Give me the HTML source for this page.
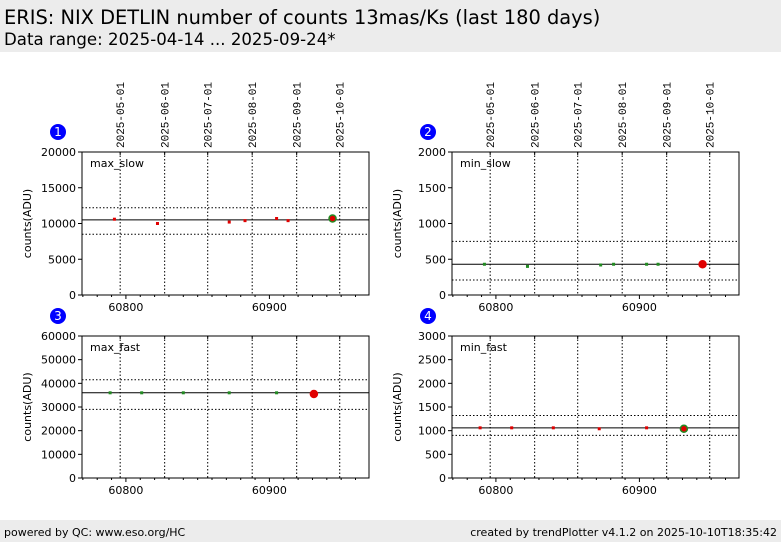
<!DOCTYPE html>
<html><head><meta charset="utf-8"><style>
body{margin:0;width:782px;height:542px;background:#fff;overflow:hidden;font-family:"DejaVu Sans","Liberation Sans",sans-serif;position:relative}
#hdr{position:absolute;left:0;top:0;width:781px;height:52px;background:#ececec}
#t1{position:absolute;left:4px;top:6px;font-size:19.4px;color:#000;white-space:nowrap}
#t2{position:absolute;left:4px;top:30px;font-size:16.6px;color:#000;white-space:nowrap}
#ftr{position:absolute;left:0;top:520px;width:781px;height:22px;background:#ececec;font-size:11px}
#fl{position:absolute;left:4px;top:6px}
#fr{position:absolute;right:4px;top:6px}
svg{position:absolute;left:0;top:0}
</style></head><body>
<div id="hdr">
<div id="t1">ERIS: NIX DETLIN number of counts 13mas/Ks (last 180 days)</div>
<div id="t2">Data range: 2025-04-14 ... 2025-09-24*</div>
</div>
<svg id="chart" width="782" height="542"></svg>
<div id="ftr">
<span id="fl">powered by QC: www.eso.org/HC</span>
<span id="fr">created by trendPlotter v4.1.2 on 2025-10-10T18:35:42</span>
</div>
<script>
const dateLabels=["2025-05-01","2025-06-01","2025-07-01","2025-08-01","2025-09-01","2025-10-01"];
const dateMjd=[60796,60827,60857,60888,60919,60949];
const xTicks=[60800,60900];
const p1Mjd=[60792,60822,60872,60883,60905,60913,60944];
const p1Val=[10600,10000,10200,10400,10700,10400,10700];
const p2Mjd=[60792,60822,60873,60882,60905,60913,60944];
const p2Val=[430,400,420,430,430,430,430];
const p3Mjd=[60789,60811,60840,60872,60905,60931];
const p3Val=[36000,36000,36000,36000,36000,35500];
const p4Mjd=[60789,60811,60840,60872,60905,60931];
const p4Val=[1060,1060,1060,1040,1060,1040];
const p1Lines=[10500,12200,8500];
const p2Lines=[430,750,210];
const p3Lines=[36000,41500,29000];
const p4Lines=[1060,1320,900];
const p1Ticks=[0,5000,10000,15000,20000];
const p2Ticks=[0,500,1000,1500,2000];
const p3Ticks=[0,10000,20000,30000,40000,50000,60000];
const p4Ticks=[0,500,1000,1500,2000,2500,3000];

const NS="http://www.w3.org/2000/svg";
const svg=document.getElementById('chart');
function mk(tag,attrs,parent){const e=document.createElementNS(NS,tag);for(const k in attrs)e.setAttribute(k,attrs[k]);(parent||svg).appendChild(e);return e;}
const panels=[
 {n:1,name:'max_slow',x0:82,y0:152,h:143,mjd:p1Mjd,val:p1Val,lines:p1Lines,ticks:p1Ticks,dot:'#e00000',big:'#228b22',bigIn:'#e00000',dates:true},
 {n:2,name:'min_slow',x0:452,y0:152,h:143,mjd:p2Mjd,val:p2Val,lines:p2Lines,ticks:p2Ticks,dot:'#228b22',big:'#e00000',bigIn:'#e00000',dates:true},
 {n:3,name:'max_fast',x0:82,y0:336,h:142,mjd:p3Mjd,val:p3Val,lines:p3Lines,ticks:p3Ticks,dot:'#228b22',big:'#e00000',bigIn:'#e00000',dates:false},
 {n:4,name:'min_fast',x0:452,y0:336,h:142,mjd:p4Mjd,val:p4Val,lines:p4Lines,ticks:p4Ticks,dot:'#e00000',big:'#228b22',bigIn:'#e00000',dates:false}
];
const W=287,xmin=60769.4,xmax=60969.4;
panels.forEach(p=>{
 const g=mk('g',{});
 
 
 const X=v=>p.x0+(v-xmin)/(xmax-xmin)*W;
 const ymax=p.ticks[p.ticks.length-1];
 const Y=v=>p.y0+p.h-(v/ymax)*p.h;
 const c=mk('circle',{cx:p.x0-24,cy:p.y0-20,r:8,fill:'#0000ff'},g);
 
 
 const ct=mk('text',{x:p.x0-24,y:p.y0-16,'text-anchor':'middle','font-size':12,fill:'#fff'},g);ct.textContent=p.n;
 dateMjd.forEach((m,i)=>{
  mk('line',{x1:X(m),x2:X(m),y1:p.y0,y2:p.y0+p.h,stroke:'#000','stroke-width':1,'stroke-dasharray':'1.5,2'},g);
  mk('line',{x1:X(m),x2:X(m),y1:p.y0,y2:p.y0+3,stroke:'#000'},g);
  if(p.dates){const t=mk('text',{transform:`translate(${X(m)+4},${p.y0-4}) rotate(-90)`,'font-family':'"Liberation Mono",monospace','font-size':11,fill:'#000'},g);t.textContent=dateLabels[i];
   
   }
 });
 p.lines.forEach((v,i)=>{
  mk('line',{x1:p.x0,x2:p.x0+W,y1:Y(v),y2:Y(v),stroke:'#000','stroke-width':1,'stroke-dasharray':i?'1.5,2':''},g);
 });
 mk('rect',{x:p.x0,y:p.y0,width:W,height:p.h,fill:'none',stroke:'#000','stroke-width':1},g);
 for(let m=60770;m<=60960;m+=10){mk('line',{x1:X(m),x2:X(m),y1:p.y0+p.h,y2:p.y0+p.h+(m%100==0?4:2),stroke:'#000'},g);}
 xTicks.forEach(m=>{const t=mk('text',{x:X(m),y:p.y0+p.h+16,'text-anchor':'middle','font-size':11,fill:'#000'},g);t.textContent=m;
  
  });
 p.ticks.forEach(v=>{mk('line',{x1:p.x0-4,x2:p.x0,y1:Y(v),y2:Y(v),stroke:'#000'},g);
  const t=mk('text',{x:p.x0-6,y:Y(v)+4,'text-anchor':'end','font-size':11,fill:'#000'},g);t.textContent=v;
  
  });
 const yl=mk('text',{transform:`translate(${p.x0-51},${p.y0+p.h/2}) rotate(-90)`,'text-anchor':'middle','font-size':11,fill:'#000'},g);yl.textContent='counts(ADU)';
 
 
 const lb=mk('text',{x:p.x0+8,y:p.y0+15,'font-size':11,fill:'#000'},g);lb.textContent=p.name;
 
 
 p.mjd.forEach((m,i)=>{
  const last=i==p.mjd.length-1;
  if(last){const b=mk('circle',{cx:X(m),cy:Y(p.val[i]),r:3.5,fill:p.bigIn,stroke:p.big,'stroke-width':1.5},g);
   
   }
  else{const r=mk('rect',{x:X(m)-1.5,y:Y(p.val[i])-1.5,width:3,height:3,fill:p.dot},g);
   
   }
 });
});
</script>
</body></html>
